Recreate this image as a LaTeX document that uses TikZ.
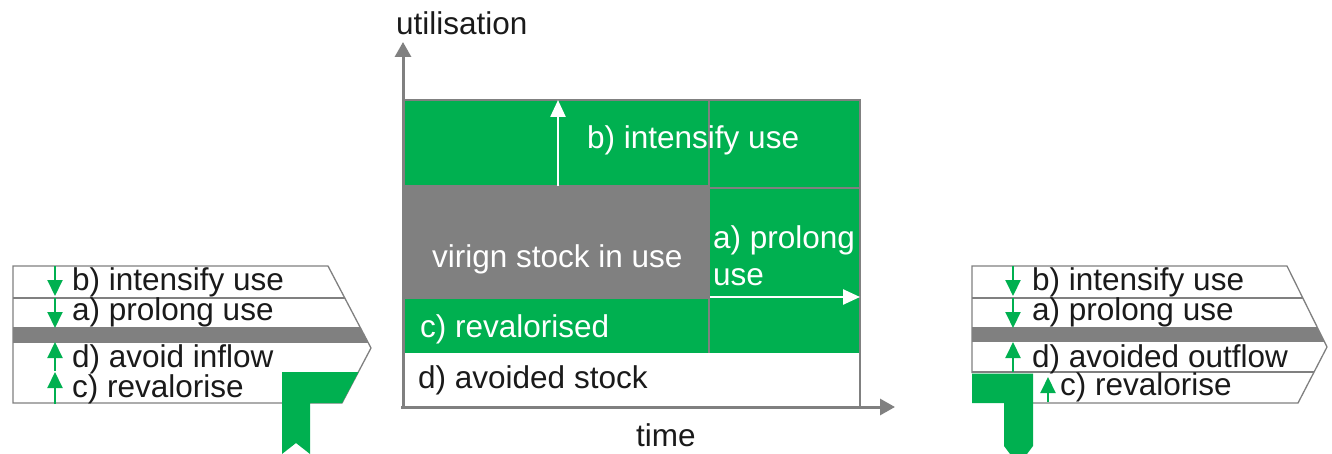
\documentclass[tikz,border=0pt]{standalone}
\usepackage{fontspec}
\setmainfont{Liberation Sans}
\usetikzlibrary{arrows.meta}
\definecolor{pgreen}{HTML}{00B050}
\definecolor{pgray}{HTML}{808080}
\definecolor{ink}{HTML}{1A1A1A}
\tikzset{
  lbl/.style={font=\fontsize{31.5}{34}\selectfont, inner sep=0pt, anchor=base west, text=ink},
  wlbl/.style={lbl, text=white},
  axisline/.style={pgray, line width=3pt, -{Triangle[width=16pt,length=15pt]}},
  garrow/.style={pgreen, line width=2pt, -{Triangle[width=15pt,length=16pt]}},
  warrow/.style={white, line width=2.5pt, -{Triangle[width=15pt,length=17pt]}},
  frameline/.style={pgray, line width=1.3pt},
}
\begin{document}
\begin{tikzpicture}[x=1pt,y=-1pt]
\useasboundingbox (0,0) rectangle (1332,454);
\fill[white] (0,0) rectangle (1332,454);

% ---------------- centre chart ----------------
\fill[pgreen] (403,100) rectangle (860,353);
\fill[pgray] (403,186) rectangle (709,299);
\draw[frameline] (403,100) -- (860,100) -- (860,407);
\draw[frameline] (709,100) -- (709,353);
\draw[frameline] (403,186) -- (709,186);
\draw[frameline] (709,188) -- (860,188);

\coordinate (yb) at (403,409);
\coordinate (yt) at (403,42);
\coordinate (xl) at (401,407);
\coordinate (xr) at (895,407);
\draw[axisline] (yb) -- (yt);
\draw[axisline] (xl) -- (xr);

\coordinate (ub) at (558,186);
\coordinate (ut) at (558,100);
\draw[warrow] (ub) -- (ut);
\coordinate (rl) at (710,297);
\coordinate (rr) at (860,297);
\draw[warrow] (rl) -- (rr);

\node[lbl]  (util) at (396,35) {utilisation};
\node[wlbl] (intc) at (587,149) {b) intensify use};
\node[wlbl] (virg) at (432,268) {virign stock in use};
\node[wlbl] (prol) at (713,248) {a) prolong};
\node[wlbl] (prolu) at (713,285) {use};
\node[wlbl] (reva) at (420,337) {c) revalorised};
\node[lbl]  (avst) at (418,388) {d) avoided stock};
\node[lbl]  (time) at (636,446) {time};

% ---------------- left panel ----------------
\begin{scope}
  \clip (13,266) -- (328,266) -- (371,348) -- (342,403) -- (13,403) -- cycle;
  \fill[pgray] (13,329) rectangle (380,343);
  \draw[frameline] (13,298) -- (380,298);
  \draw[frameline] (13,328) -- (380,328);
\end{scope}
\draw[frameline] (13,266) -- (328,266) -- (371,348) -- (342,403) -- (13,403) -- cycle;
\fill[pgreen] (282,372) -- (358.5,372) -- (342,403) -- (310,403) -- (310,454)
  -- (296,443) -- (282,454) -- cycle;

\coordinate (lb1) at (55,266); \coordinate (lb2) at (55,296);
\coordinate (la1) at (55,298); \coordinate (la2) at (55,328);
\coordinate (ld1) at (55,371); \coordinate (ld2) at (55,342);
\coordinate (lc1) at (55,404); \coordinate (lc2) at (55,372);
\draw[garrow] (lb1) -- (lb2);
\draw[garrow] (la1) -- (la2);
\draw[garrow] (ld1) -- (ld2);
\draw[garrow] (lc1) -- (lc2);

\node[lbl] (lbt) at (72,290) {b) intensify use};
\node[lbl] (lat) at (72,320) {a) prolong use};
\node[lbl] (ldt) at (72,367) {d) avoid inflow};
\node[lbl] (lct) at (72,397) {c) revalorise};

% ---------------- right panel ----------------
\begin{scope}
  \clip (972,266) -- (1287,266) -- (1327,347) -- (1298,403) -- (972,403) -- cycle;
  \fill[pgray] (972,328.5) rectangle (1335,342);
  \draw[frameline] (972,298) -- (1335,298);
  \draw[frameline] (972,328) -- (1335,328);
  \draw[frameline] (972,372) -- (1335,372);
\end{scope}
\draw[frameline] (972,373) -- (972,266) -- (1287,266) -- (1327,347) -- (1298,403) -- (1032,403);
\fill[pgreen] (972,373.5) -- (1033,373.5) -- (1033,446) -- (1027,454) -- (1010,454)
  -- (1004,446) -- (1004,403) -- (972,403) -- cycle;

\coordinate (rb1) at (1013,266); \coordinate (rb2) at (1013,296);
\coordinate (ra1) at (1013,298); \coordinate (ra2) at (1013,328);
\coordinate (rd1) at (1013,372); \coordinate (rd2) at (1013,342);
\coordinate (rc1) at (1048,402); \coordinate (rc2) at (1048,377);
\draw[garrow] (rb1) -- (rb2);
\draw[garrow] (ra1) -- (ra2);
\draw[garrow] (rd1) -- (rd2);
\draw[garrow] (rc1) -- (rc2);

\node[lbl] (rbt) at (1032,290) {b) intensify use};
\node[lbl] (rat) at (1032,320) {a) prolong use};
\node[lbl] (rdt) at (1032,367) {d) avoided outflow};
\node[lbl] (rct) at (1060,395) {c) revalorise};
\end{tikzpicture}
\end{document}
